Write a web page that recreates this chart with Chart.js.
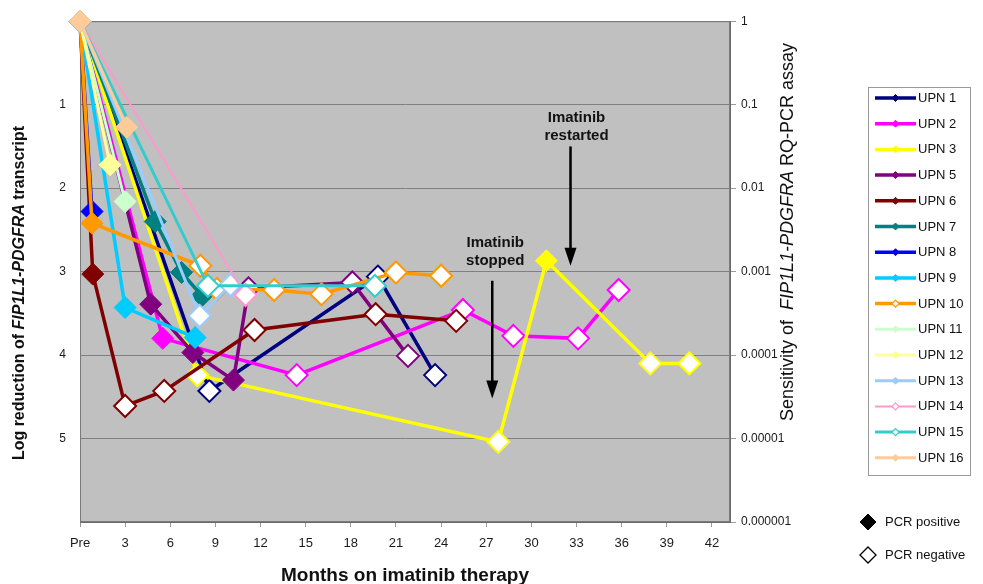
<!DOCTYPE html>
<html><head><meta charset="utf-8">
<script src="https://cdn.jsdelivr.net/npm/chart.js@4/dist/chart.umd.min.js"></script>
<style>html,body{margin:0;padding:0;background:#fff;}#wrap{width:983px;height:584px;position:relative;}</style>
</head><body><div id="wrap"><canvas id="c" width="983" height="584"></canvas></div>
<script>
// ---------- tick labels ----------
const monthTicks = [0,3,6,9,12,15,18,21,24,27,30,33,36,39,42];
const monthTickLabels = ['Pre','3','6','9','12','15','18','21','24','27','30','33','36','39','42'];
const logTicks = [0,1,2,3,4,5,6];
const leftTickLabels = ['','1','2','3','4','5',''];
const rightTickLabels = ['1','0.1','0.01','0.001','0.0001','0.00001','0.000001'];

// ---------- series ----------
const seriesNames = ['UPN 1','UPN 2','UPN 3','UPN 5','UPN 6','UPN 7','UPN 8','UPN 9','UPN 10','UPN 11','UPN 12','UPN 13','UPN 14','UPN 15','UPN 16'];
const seriesColors = ['#000080','#FF00FF','#FFFF00','#800080','#800000','#008080','#0000FF','#00CCFF','#FF9900','#CCFFCC','#FFFF99','#99CCFF','#FF99CC','#33CCCC','#FFCC99'];
const seriesLineWidths = [3.5,3.5,3.5,3.5,3.5,3.5,3.5,3.5,3.5,3,3,3,2,3,3];
const legendOpenMarker = [false,false,false,false,false,false,false,false,true,false,false,false,true,true,false];

// months, log reduction, PCR result (P = positive, N = negative)
const upn1Months = [0,8.6,19.8,23.6];            const upn1Log = [0,4.43,3.06,4.24];            const upn1Pcr = 'PNNN';
const upn2Months = [0,5.5,14.4,25.45,28.8,33.1,35.8]; const upn2Log = [0,3.80,4.24,3.46,3.77,3.80,3.22]; const upn2Pcr = 'PPNNNNN';
const upn3Months = [0,7.8,27.8,31.0,37.9,40.5];  const upn3Log = [0,4.24,5.04,2.87,4.10,4.10];  const upn3Pcr = 'PNNPNN';
const upn5Months = [0,4.7,7.5,10.2,11.2,18.1,21.8]; const upn5Log = [0,3.39,3.97,4.30,3.20,3.13,4.01]; const upn5Pcr = 'PPPPNNN';
const upn6Months = [0,0.85,3.0,5.6,11.6,19.65,25.0]; const upn6Log = [0,3.03,4.61,4.43,3.70,3.51,3.59]; const upn6Pcr = 'PPNNNNN';
const upn7Months = [0,5.0,6.75,8.1];             const upn7Log = [0,2.40,3.01,3.29];            const upn7Pcr = 'PPPP';
const upn8Months = [0,0.8];                      const upn8Log = [0,2.28];                      const upn8Pcr = 'PP';
const upn9Months = [0,3.0,7.65];                 const upn9Log = [0,3.43,3.79];                 const upn9Pcr = 'PPP';
const upn10Months = [0,0.8,8.0,9.1,12.9,16.05,21.0,24.0]; const upn10Log = [0,2.42,2.93,3.21,3.22,3.27,3.01,3.05]; const upn10Pcr = 'PPNNNNNN';
const upn11Months = [0,3.0];                     const upn11Log = [0,2.16];                     const upn11Pcr = 'PP';
const upn12Months = [0,2.0];                     const upn12Log = [0,1.72];                     const upn12Pcr = 'PP';
const upn13Months = [0,7.95,10.0];               const upn13Log = [0,3.53,3.16];                const upn13Pcr = 'PNN';
const upn14Months = [0,11.0];                    const upn14Log = [0,3.28];                     const upn14Pcr = 'PN';
const upn15Months = [0,8.5,19.6];                const upn15Log = [0,3.17,3.17];                const upn15Pcr = 'PNN';
const upn16Months = [0,3.1];                     const upn16Log = [0,1.27];                     const upn16Pcr = 'PP';

const seriesMonths = [upn1Months,upn2Months,upn3Months,upn5Months,upn6Months,upn7Months,upn8Months,upn9Months,upn10Months,upn11Months,upn12Months,upn13Months,upn14Months,upn15Months,upn16Months];
const seriesLog = [upn1Log,upn2Log,upn3Log,upn5Log,upn6Log,upn7Log,upn8Log,upn9Log,upn10Log,upn11Log,upn12Log,upn13Log,upn14Log,upn15Log,upn16Log];
const seriesPcr = [upn1Pcr,upn2Pcr,upn3Pcr,upn5Pcr,upn6Pcr,upn7Pcr,upn8Pcr,upn9Pcr,upn10Pcr,upn11Pcr,upn12Pcr,upn13Pcr,upn14Pcr,upn15Pcr,upn16Pcr];

// ---------- annotations ----------
const stoppedText = ['Imatinib','stopped'];
const stoppedTextPos = [27.6, 2.66];
const stoppedArrow = [27.4, 3.11, 4.52];
const restartedText = ['Imatinib','restarted'];
const restartedTextPos = [33.0, 1.16];
const restartedArrow = [32.6, 1.50, 2.93];

const FONT = '"Liberation Sans", Arial, Helvetica, sans-serif';

const datasets = seriesNames.map((name, i) => ({
  label: name,
  data: seriesMonths[i].map((m, j) => ({x: m, y: seriesLog[i][j]})),
  borderColor: seriesColors[i],
  backgroundColor: seriesColors[i],
  borderWidth: seriesLineWidths[i],
  pointStyle: 'rectRot',
  pointRadius: 11,
  pointBackgroundColor: seriesPcr[i].split('').map(c => c === 'P' ? seriesColors[i] : '#FFFFFF'),
  pointBorderColor: seriesColors[i],
  pointBorderWidth: seriesPcr[i].split('').map(c => c === 'P' ? 1 : 2),
  tension: 0,
  fill: false,
  clip: false,
  order: -i
}));

function drawRich(ctx, segs, cx, cy, rot) {
  ctx.save();
  ctx.translate(cx, cy);
  ctx.rotate(rot);
  let total = 0;
  segs.forEach(s => { ctx.font = s[1]; total += ctx.measureText(s[0]).width; });
  let x = -total / 2;
  ctx.textBaseline = 'middle';
  ctx.textAlign = 'left';
  ctx.fillStyle = '#111';
  segs.forEach(s => { ctx.font = s[1]; ctx.fillText(s[0], x, 0); x += ctx.measureText(s[0]).width; });
  ctx.restore();
}

function diamond(ctx, x, y, r, fill, stroke, lw) {
  ctx.beginPath();
  ctx.moveTo(x, y - r); ctx.lineTo(x + r, y); ctx.lineTo(x, y + r); ctx.lineTo(x - r, y); ctx.closePath();
  ctx.fillStyle = fill; ctx.fill();
  ctx.lineWidth = lw; ctx.strokeStyle = stroke; ctx.stroke();
}

const decorPlugin = {
  id: 'decor',
  beforeDraw(chart) {
    const {ctx, chartArea: a} = chart;
    ctx.save();
    ctx.fillStyle = '#C0C0C0';
    ctx.fillRect(a.left, a.top, a.right - a.left, a.bottom - a.top);
    ctx.restore();
  },
  beforeDatasetsDraw(chart) {
    const {ctx, chartArea: a} = chart;
    ctx.save();
    ctx.strokeStyle = '#7a7a7a';
    ctx.lineWidth = 1;
    ctx.strokeRect(a.left + 0.5, a.top + 0.5, a.right - a.left - 1, a.bottom - a.top - 1);
    ctx.restore();
  },
  afterDraw(chart) {
    const {ctx} = chart;
    const xs = chart.scales.x, ys = chart.scales.y;
    // annotations
    ctx.save();
    ctx.fillStyle = '#111';
    ctx.font = 'bold 15px ' + FONT;
    ctx.textAlign = 'center';
    ctx.textBaseline = 'middle';
    const drawNote = (lines, pos) => {
      const x = xs.getPixelForValue(pos[0]);
      const y = ys.getPixelForValue(pos[1]);
      lines.forEach((l, k) => ctx.fillText(l, x, y + k * 18));
    };
    drawNote(stoppedText, stoppedTextPos);
    drawNote(restartedText, restartedTextPos);
    const drawArrow = (a) => {
      const x = xs.getPixelForValue(a[0]);
      const y1 = ys.getPixelForValue(a[1]);
      const y2 = ys.getPixelForValue(a[2]);
      ctx.strokeStyle = '#000'; ctx.lineWidth = 2.5;
      ctx.beginPath(); ctx.moveTo(x, y1); ctx.lineTo(x, y2 - 14); ctx.stroke();
      ctx.fillStyle = '#000';
      ctx.beginPath(); ctx.moveTo(x - 6, y2 - 18); ctx.lineTo(x + 6, y2 - 18); ctx.lineTo(x, y2); ctx.closePath(); ctx.fill();
    };
    drawArrow(stoppedArrow);
    drawArrow(restartedArrow);
    ctx.restore();

    // axis titles
    drawRich(ctx, [['Log reduction of ', 'bold 16px ' + FONT], ['FIP1L1-PDGFRA', 'italic bold 16px ' + FONT], [' transcript', 'bold 16px ' + FONT]], 20, 293, -Math.PI / 2);
    drawRich(ctx, [['Sensitivity of  ', '18px ' + FONT], ['FIP1L1-PDGFRA', 'italic 18px ' + FONT], [' RQ-PCR assay', '18px ' + FONT]], 788, 232, -Math.PI / 2);
    drawRich(ctx, [['Months on imatinib therapy', 'bold 19px ' + FONT]], 405, 576, 0);

    // legend
    ctx.save();
    ctx.strokeStyle = '#9a9a9a'; ctx.lineWidth = 1;
    ctx.strokeRect(868.5, 87.5, 102, 388);
    ctx.font = '13px ' + FONT;
    ctx.textBaseline = 'middle'; ctx.textAlign = 'left';
    seriesNames.forEach((n, i) => {
      const y = 98 + i * 25.7;
      ctx.strokeStyle = seriesColors[i]; ctx.lineWidth = seriesLineWidths[i];
      ctx.beginPath(); ctx.moveTo(875, y); ctx.lineTo(916, y); ctx.stroke();
      if (legendOpenMarker[i]) diamond(ctx, 895.5, y, 3.5, '#fff', seriesColors[i], 1.2);
      else diamond(ctx, 895.5, y, 3.5, seriesColors[i], seriesColors[i], 1);
      ctx.fillStyle = '#111';
      ctx.fillText(n, 918, y + 0.5);
    });
    diamond(ctx, 868, 522, 8, '#000', '#000', 1);
    diamond(ctx, 868, 555, 8, '#fff', '#000', 1.3);
    ctx.fillStyle = '#111';
    ctx.fillText('PCR positive', 885, 522);
    ctx.fillText('PCR negative', 885, 555);
    ctx.restore();
  }
};

new Chart(document.getElementById('c'), {
  type: 'line',
  data: { datasets },
  plugins: [decorPlugin],
  options: {
    responsive: false,
    animation: false,
    devicePixelRatio: 1,
    events: [],
    layout: { padding: { left: 0, top: 18, right: 183, bottom: 32 } },
    plugins: { legend: { display: false }, tooltip: { enabled: false } },
    scales: {
      x: {
        type: 'linear', position: 'bottom', min: 0, max: 43.2,
        afterBuildTicks: s => { s.ticks = monthTicks.map(v => ({value: v})); },
        afterFit: s => { s.height = 30; },
        ticks: {
          callback: v => monthTickLabels[monthTicks.indexOf(v)],
          font: { family: FONT, size: 13 }, color: '#1a1a1a',
          maxRotation: 0, autoSkip: false, padding: 9
        },
        grid: { drawOnChartArea: false, drawTicks: true, tickLength: 5, color: '#9a9a9a' },
        border: { color: '#6a6a6a', width: 1 }
      },
      y: {
        type: 'linear', position: 'left', reverse: true, min: 0, max: 6,
        afterBuildTicks: s => { s.ticks = logTicks.map(v => ({value: v})); },
        afterFit: s => { s.width = 80; },
        ticks: {
          callback: v => leftTickLabels[logTicks.indexOf(v)],
          font: { family: FONT, size: 12 }, color: '#1a1a1a', padding: 14
        },
        grid: { color: '#808080', lineWidth: 1, drawTicks: false },
        border: { color: '#6a6a6a', width: 1 }
      },
      y2: {
        type: 'linear', position: 'right', reverse: true, min: 0, max: 6,
        afterBuildTicks: s => { s.ticks = logTicks.map(v => ({value: v})); },
        afterFit: s => { s.width = 70; },
        ticks: {
          callback: v => rightTickLabels[logTicks.indexOf(v)],
          font: { family: FONT, size: 12 }, color: '#1a1a1a', padding: 5
        },
        grid: { drawOnChartArea: false, drawTicks: true, tickLength: 6, color: '#9a9a9a' },
        border: { color: '#6a6a6a', width: 1 }
      }
    }
  }
});
</script></body></html>
